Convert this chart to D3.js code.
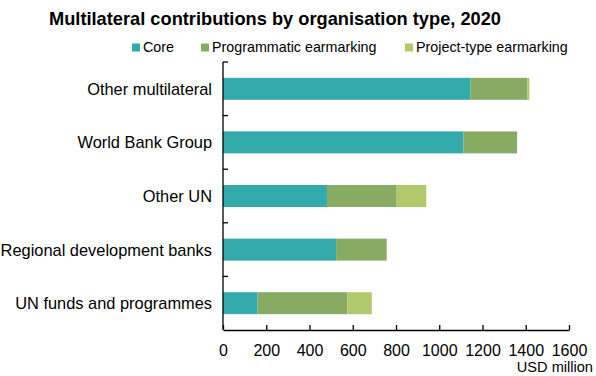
<!DOCTYPE html>
<html>
<head>
<meta charset="utf-8">
<script src="https://cdn.jsdelivr.net/npm/d3@7"></script>
<style>
  html, body { margin: 0; padding: 0; background: #fff; }
  svg { display: block; }
  text { font-family: "Liberation Sans", Arial, sans-serif; fill: #000; }
</style>
</head>
<body>
<svg id="chart" width="596" height="376"></svg>
<script>
// Organisation types, top to bottom
const categories = [
  "Other multilateral",
  "World Bank Group",
  "Other UN",
  "Regional development banks",
  "UN funds and programmes"
];
// Contributions in USD million
const core         = [1145, 1112, 481, 523, 160];
const programmatic = [262, 248, 322, 234, 415];
const projectType  = [10, 0, 137, 0, 113];

const seriesNames  = ["Core", "Programmatic earmarking", "Project-type earmarking"];
const seriesColors = ["#33aaab", "#87ab63", "#b2c86c"];
const xTicks = [0, 200, 400, 600, 800, 1000, 1200, 1400, 1600];

const svg = d3.select("#chart");
const plotLeft = 223, plotRight = 569, plotTop = 62, plotBottom = 330;

const x = d3.scaleLinear().domain([0, 1600]).range([plotLeft, plotRight]);
const y = d3.scaleBand().domain(categories).range([plotTop, plotBottom]).paddingInner(0.59).paddingOuter(0.295);

const rows = categories.map((c, i) => ({ cat: c, Core: core[i], "Programmatic earmarking": programmatic[i], "Project-type earmarking": projectType[i] }));
const stacked = d3.stack().keys(seriesNames)(rows);

// Title
svg.append("text")
  .attr("x", 49).attr("y", 24.5)
  .attr("font-size", 18.2).attr("font-weight", "bold")
  .attr("textLength", 452).attr("lengthAdjust", "spacingAndGlyphs")
  .text("Multilateral contributions by organisation type, 2020");

// Legend
const legendX = [132, 201, 405];
const legend = svg.append("g");
seriesNames.forEach((name, i) => {
  legend.append("rect").attr("x", legendX[i]).attr("y", 43.5).attr("width", 8).attr("height", 8).attr("fill", seriesColors[i]);
  legend.append("text").attr("x", legendX[i] + 11).attr("y", 52).attr("font-size", 14.3).text(name);
});

// Bars
svg.append("g").selectAll("g").data(stacked).join("g")
  .attr("fill", (d, i) => seriesColors[i])
  .selectAll("rect").data(d => d).join("rect")
  .attr("x", d => x(d[0]))
  .attr("y", d => y(d.data.cat))
  .attr("width", d => Math.max(0, x(d[1]) - x(d[0])))
  .attr("height", y.bandwidth());

// Category axis: line with ticks at band boundaries
const yAxis = svg.append("g").attr("stroke", "#000").attr("stroke-width", 1.3);
yAxis.append("line").attr("x1", plotLeft).attr("x2", plotLeft).attr("y1", plotTop).attr("y2", plotBottom);
const boundaries = categories.map(c => y(c) - y.step() * y.paddingInner() / 2);
boundaries.forEach(b => yAxis.append("line").attr("x1", plotLeft).attr("x2", plotLeft + 5).attr("y1", b).attr("y2", b));

svg.append("g").selectAll("text").data(categories).join("text")
  .attr("x", 212).attr("y", d => y(d) + y.bandwidth() / 2)
  .attr("dy", "0.36em").attr("text-anchor", "end")
  .attr("font-size", 16.4).text(d => d);

// Value axis
const xAxis = d3.axisBottom(x).tickValues(xTicks).tickSizeInner(-5).tickSizeOuter(0).tickPadding(15).tickFormat(d3.format("d"));
const gx = svg.append("g").attr("transform", `translate(0,${plotBottom})`).call(xAxis);
gx.select(".domain").attr("stroke", "#000").attr("stroke-width", 1.3);
gx.selectAll(".tick line").attr("stroke", "#000").attr("stroke-width", 1.3);
gx.selectAll(".tick text").attr("font-size", 16).attr("fill", "#000")
  .style("font-family", '"Liberation Sans", Arial, sans-serif');

svg.append("text").attr("x", 593).attr("y", 372).attr("text-anchor", "end").attr("font-size", 14.6).text("USD million");
</script>
</body>
</html>
